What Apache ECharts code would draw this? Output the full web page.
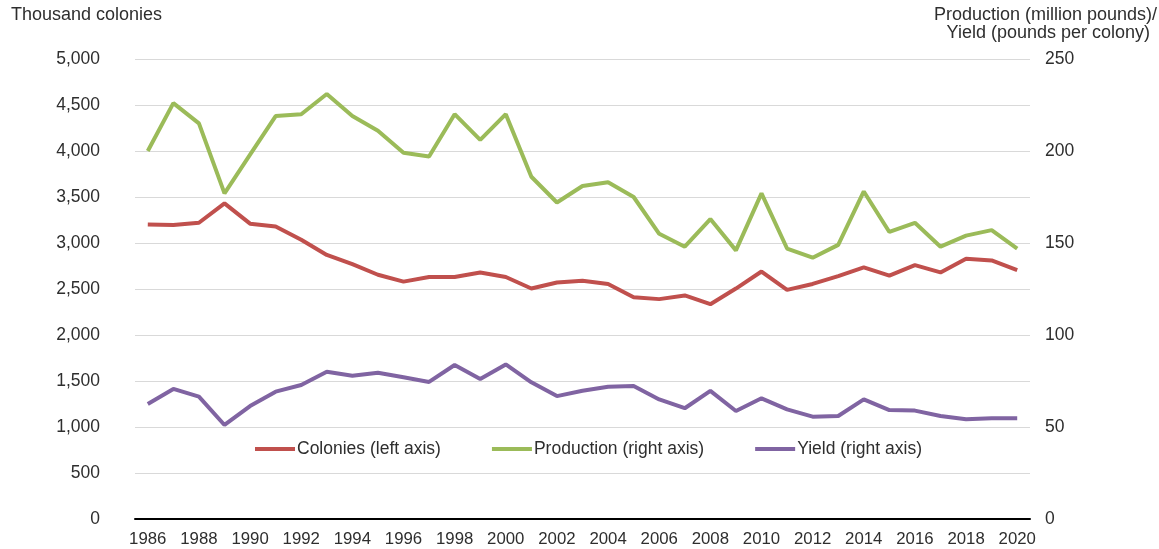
<!DOCTYPE html>
<html>
<head>
<meta charset="utf-8">
<script src="https://cdn.jsdelivr.net/npm/echarts@6/dist/echarts.min.js"></script>
<style>
  html, body { margin: 0; padding: 0; background: #fff; }
  #chart { width: 1159px; height: 549px; }
</style>
</head>
<body>
<div id="chart"></div>
<script>
// Years on the horizontal axis
const years = [];
for (let y = 1986; y <= 2020; y++) years.push(String(y));

// Honey bee colonies, thousand colonies (left axis)
const colonies = [3200, 3195, 3220, 3430, 3210, 3180, 3035, 2870, 2770, 2655, 2580, 2630,
  2630, 2680, 2630, 2505, 2570, 2590, 2555, 2410, 2390, 2430, 2335, 2505, 2690,
  2490, 2555, 2640, 2735, 2645, 2760, 2680, 2830, 2810, 2705];

// Honey production, million pounds (right axis)
const production = [200, 226, 215, 177, 198, 219, 220, 231, 219, 211, 199, 197,
  220, 206, 220, 186, 172, 181, 183, 175, 155, 148, 163, 146, 177,
  147, 142, 149, 178, 156, 161, 148, 154, 157, 147];

// Yield, pounds per colony (right axis)
const yieldPerColony = [62.5, 70.7, 66.5, 51.1, 61.4, 69.2, 72.8, 80, 77.9, 79.5, 77, 74.5,
  83.7, 76.1, 84, 74.3, 66.8, 69.7, 71.9, 72.3, 65, 60.2, 69.6, 58.7, 65.6,
  59.6, 55.6, 56, 65, 59.2, 58.9, 56, 54.2, 54.7, 54.7];

const FONT = '"Liberation Sans", Arial, sans-serif';
const TXT = '#2e2e2e';

const chart = echarts.init(document.getElementById('chart'));
chart.setOption({
  animation: false,
  textStyle: { fontFamily: FONT },
  grid: { left: 135, right: 129, top: 59, bottom: 30 },
  graphic: [
    { type: 'text', left: 11, top: 6,
      style: { text: 'Thousand colonies', font: '18px ' + FONT, fill: TXT } },
    { type: 'text', right: 2, top: 6,
      style: { text: 'Production (million pounds)/', font: '18px ' + FONT, fill: TXT } },
    { type: 'text', right: 9, top: 24,
      style: { text: 'Yield (pounds per colony)', font: '18px ' + FONT, fill: TXT } }
  ],
  legend: {
    left: 255, top: 440, padding: 0,
    itemWidth: 40, itemHeight: 4, itemGap: 51,
    icon: 'rect',
    textStyle: { fontSize: 17.5, color: TXT, fontFamily: FONT, padding: [0, 0, 0, -3] },
    data: ['Colonies (left axis)', 'Production (right axis)', 'Yield (right axis)']
  },
  xAxis: {
    type: 'category',
    data: years,
    boundaryGap: true,
    axisLine: { lineStyle: { color: '#000', width: 2 } },
    axisTick: { show: false },
    axisLabel: { interval: 1, color: TXT, fontSize: 16.8, margin: 12, fontFamily: FONT }
  },
  yAxis: [
    {
      type: 'value', min: 0, max: 5000, interval: 500,
      axisLine: { show: false }, axisTick: { show: false },
      splitLine: { lineStyle: { color: '#d9d9d9', width: 1.2 } },
      axisLabel: {
        color: TXT, fontSize: 17.5, margin: 35, fontFamily: FONT,
        formatter: v => v.toLocaleString('en-US')
      }
    },
    {
      type: 'value', min: 0, max: 250, interval: 50, position: 'right',
      axisLine: { show: false }, axisTick: { show: false },
      splitLine: { show: false },
      axisLabel: { color: TXT, fontSize: 17.5, margin: 15, fontFamily: FONT, align: 'left' }
    }
  ],
  series: [
    { name: 'Colonies (left axis)', type: 'line', yAxisIndex: 0, data: colonies,
      symbol: 'none', lineStyle: { color: '#c0504d', width: 4 }, itemStyle: { color: '#c0504d' } },
    { name: 'Production (right axis)', type: 'line', yAxisIndex: 1, data: production,
      symbol: 'none', lineStyle: { color: '#9bbb59', width: 4 }, itemStyle: { color: '#9bbb59' } },
    { name: 'Yield (right axis)', type: 'line', yAxisIndex: 1, data: yieldPerColony,
      symbol: 'none', lineStyle: { color: '#8064a2', width: 4 }, itemStyle: { color: '#8064a2' } }
  ]
});
</script>
</body>
</html>
